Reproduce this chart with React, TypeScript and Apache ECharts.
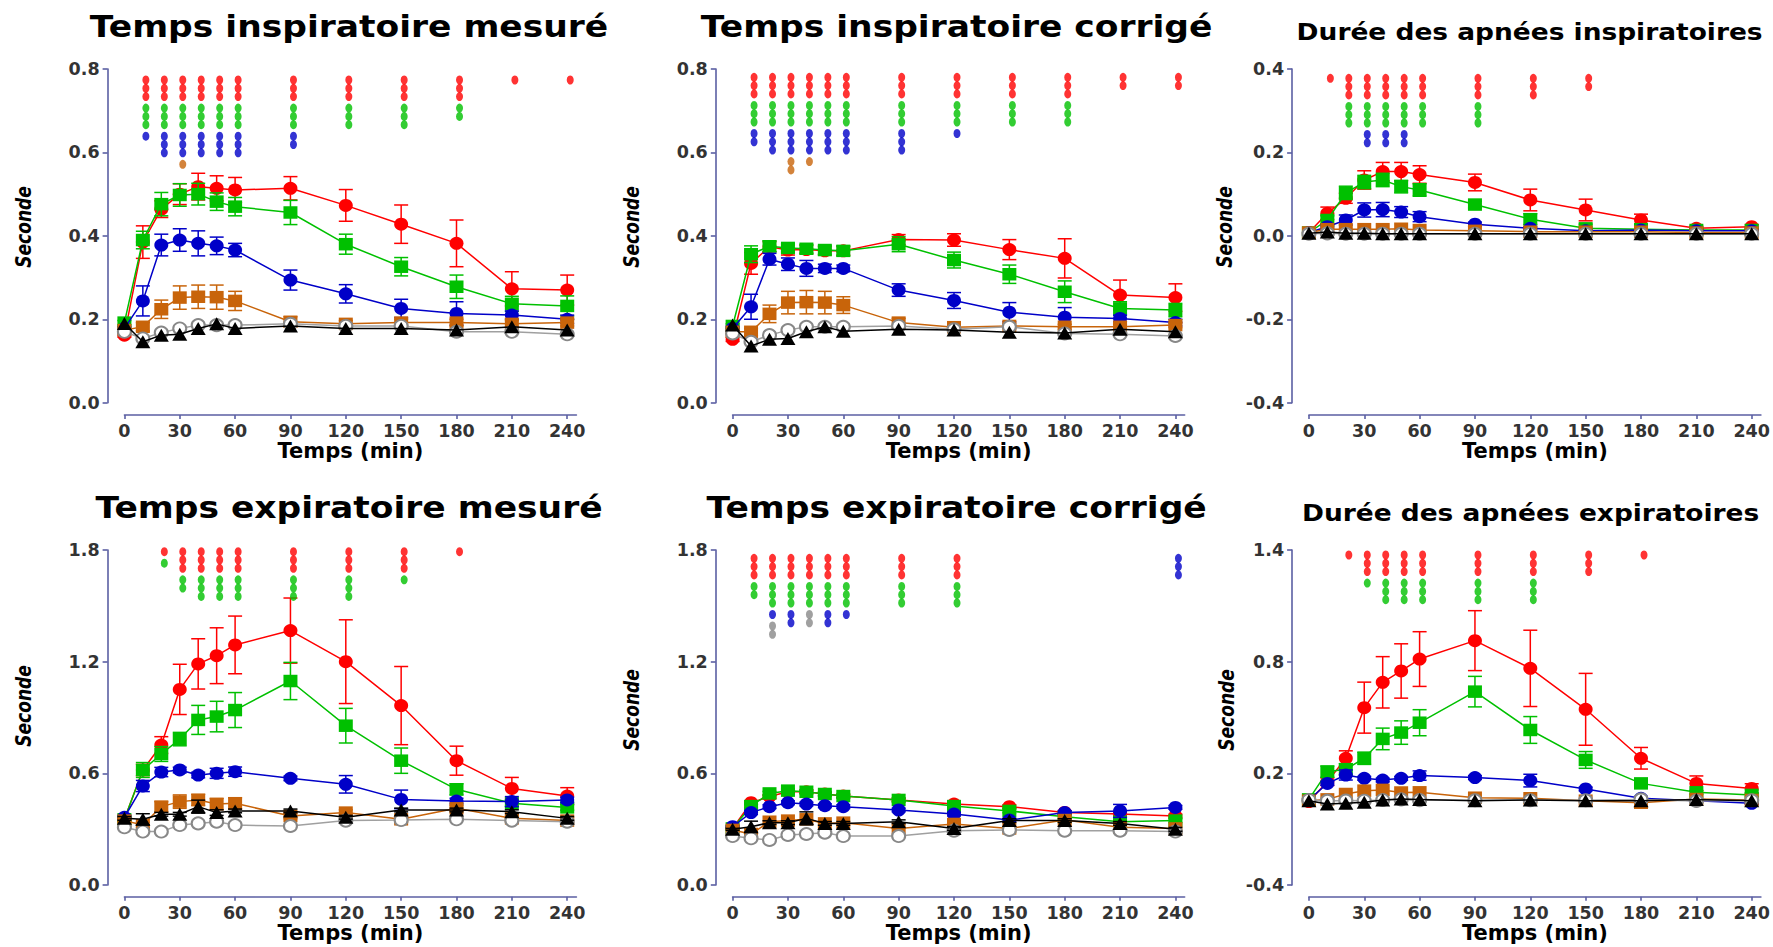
import React, { useEffect, useRef } from "react";
import * as echarts from "echarts";

// ---------- shared data ----------
const TIMES = [0, 10, 20, 30, 40, 50, 60, 90, 120, 150, 180, 210, 240];
const X_TICKS = [0, 30, 60, 90, 120, 150, 180, 210, 240];
const X_LABEL = "Temps (min)";
const Y_LABEL = "Seconde";
const TITLES = [
  "Temps inspiratoire mesuré",
  "Temps inspiratoire corrigé",
  "Durée des apnées inspiratoires",
  "Temps expiratoire mesuré",
  "Temps expiratoire corrigé",
  "Durée des apnées expiratoires",
];
const Y_TICKS_TI = [0, 0.2, 0.4, 0.6, 0.8];
const Y_TICKS_AI = [-0.4, -0.2, 0, 0.2, 0.4];
const Y_TICKS_TE = [0, 0.6, 1.2, 1.8];
const Y_TICKS_AE = [-0.4, 0.2, 0.8, 1.4];

// ---------- Panel 1 : Temps inspiratoire mesuré ----------
const P1_RED = [0.162, 0.385, 0.464, 0.5, 0.518, 0.514, 0.51, 0.514, 0.473, 0.428, 0.382, 0.273, 0.27];
const P1_RED_ERR = [0.005, 0.039, 0.02, 0.025, 0.032, 0.03, 0.03, 0.028, 0.038, 0.046, 0.056, 0.041, 0.036];
const P1_GREEN = [0.192, 0.39, 0.476, 0.498, 0.5, 0.482, 0.47, 0.456, 0.38, 0.326, 0.278, 0.237, 0.232];
const P1_GREEN_ERR = [0.005, 0.021, 0.028, 0.027, 0.026, 0.021, 0.022, 0.029, 0.024, 0.022, 0.028, 0.018, 0.024];
const P1_BLUE = [0.178, 0.244, 0.378, 0.39, 0.382, 0.376, 0.366, 0.294, 0.261, 0.226, 0.214, 0.21, 0.2];
const P1_BLUE_ERR = [0.005, 0.036, 0.026, 0.027, 0.03, 0.021, 0.016, 0.024, 0.022, 0.022, 0.028, 0.01, 0.01];
const P1_ORANGE = [0.174, 0.182, 0.224, 0.252, 0.254, 0.253, 0.244, 0.194, 0.189, 0.192, 0.192, 0.189, 0.192];
const P1_ORANGE_ERR = [0.005, 0.01, 0.022, 0.028, 0.028, 0.029, 0.023, 0.012, 0.008, 0.008, 0.008, 0.008, 0.008];
const P1_GRAY = [0.17, 0.154, 0.168, 0.178, 0.186, 0.186, 0.186, 0.189, 0.184, 0.184, 0.17, 0.17, 0.164];
const P1_BLACK = [0.19, 0.146, 0.162, 0.164, 0.178, 0.189, 0.178, 0.184, 0.178, 0.178, 0.174, 0.182, 0.174];
const P1_SIG_RED = [0, 3, 3, 3, 3, 3, 3, 3, 3, 3, 3, 1, 1];
const P1_SIG_GREEN = [0, 3, 3, 3, 3, 3, 3, 3, 3, 3, 2, 0, 0];
const P1_SIG_BLUE = [0, 1, 3, 3, 3, 3, 3, 2, 0, 0, 0, 0, 0];
const P1_SIG_ORANGE = [0, 0, 0, 1, 0, 0, 0, 0, 0, 0, 0, 0, 0];

// ---------- Panel 2 : Temps inspiratoire corrigé ----------
const P2_RED = [0.152, 0.334, 0.374, 0.366, 0.367, 0.364, 0.364, 0.391, 0.39, 0.367, 0.346, 0.258, 0.252];
const P2_RED_ERR = [0.005, 0.026, 0.012, 0.012, 0.01, 0.01, 0.01, 0.012, 0.015, 0.024, 0.047, 0.036, 0.033];
const P2_GREEN = [0.184, 0.356, 0.375, 0.371, 0.369, 0.366, 0.364, 0.38, 0.342, 0.308, 0.266, 0.226, 0.222];
const P2_GREEN_ERR = [0.005, 0.02, 0.013, 0.01, 0.01, 0.01, 0.012, 0.018, 0.019, 0.022, 0.026, 0.016, 0.016];
const P2_BLUE = [0.178, 0.23, 0.344, 0.332, 0.322, 0.322, 0.322, 0.27, 0.245, 0.217, 0.205, 0.202, 0.192];
const P2_BLUE_ERR = [0.005, 0.03, 0.014, 0.015, 0.019, 0.01, 0.008, 0.015, 0.019, 0.023, 0.023, 0.008, 0.008];
const P2_ORANGE = [0.17, 0.17, 0.213, 0.24, 0.241, 0.24, 0.234, 0.192, 0.181, 0.184, 0.182, 0.182, 0.186];
const P2_ORANGE_ERR = [0.005, 0.008, 0.021, 0.027, 0.028, 0.027, 0.02, 0.01, 0.006, 0.006, 0.006, 0.006, 0.006];
const P2_GRAY = [0.166, 0.146, 0.162, 0.174, 0.182, 0.182, 0.182, 0.184, 0.176, 0.182, 0.166, 0.164, 0.16];
const P2_BLACK = [0.186, 0.136, 0.152, 0.154, 0.17, 0.182, 0.171, 0.176, 0.174, 0.169, 0.167, 0.176, 0.17];
const P2_SIG_RED = [0, 3, 3, 3, 3, 3, 3, 3, 3, 3, 3, 2, 2];
const P2_SIG_GREEN = [0, 3, 3, 3, 3, 3, 3, 3, 3, 3, 3, 0, 0];
const P2_SIG_BLUE = [0, 2, 3, 3, 3, 3, 3, 3, 1, 0, 0, 0, 0];
const P2_SIG_ORANGE = [0, 0, 0, 2, 1, 0, 0, 0, 0, 0, 0, 0, 0];

// ---------- Panel 3 : Durée des apnées inspiratoires ----------
const P3_RED = [0.008, 0.054, 0.09, 0.134, 0.154, 0.154, 0.147, 0.128, 0.086, 0.062, 0.038, 0.018, 0.022];
const P3_RED_ERR = [0, 0.015, 0.012, 0.022, 0.022, 0.022, 0.021, 0.02, 0.026, 0.026, 0.014, 0.005, 0.005];
const P3_GREEN = [0.008, 0.038, 0.103, 0.129, 0.134, 0.118, 0.11, 0.075, 0.04, 0.018, 0.016, 0.014, 0.014];
const P3_GREEN_ERR = [0, 0.01, 0.016, 0.016, 0.016, 0.015, 0.015, 0.008, 0.013, 0.01, 0.005, 0.004, 0.004];
const P3_BLUE = [0.008, 0.022, 0.038, 0.062, 0.063, 0.057, 0.046, 0.028, 0.018, 0.012, 0.014, 0.012, 0.012];
const P3_BLUE_ERR = [0, 0.006, 0.012, 0.017, 0.017, 0.013, 0.012, 0.005, 0.004, 0.003, 0.003, 0.003, 0.003];
const P3_ORANGE = [0.008, 0.016, 0.016, 0.016, 0.016, 0.017, 0.014, 0.012, 0.01, 0.01, 0.01, 0.008, 0.008];
const P3_GRAY = [0.005, 0.006, 0.005, 0.005, 0.005, 0.005, 0.005, 0.005, 0.005, 0.005, 0.005, 0.005, 0.005];
const P3_BLACK = [0.006, 0.009, 0.006, 0.006, 0.005, 0.005, 0.005, 0.005, 0.005, 0.005, 0.005, 0.005, 0.005];
const P3_SIG_RED = [0, 1, 3, 3, 3, 3, 3, 3, 3, 2, 0, 0, 0];
const P3_SIG_GREEN = [0, 0, 3, 3, 3, 3, 3, 3, 0, 0, 0, 0, 0];
const P3_SIG_BLUE = [0, 0, 0, 2, 2, 2, 0, 0, 0, 0, 0, 0, 0];

// ---------- Panel 4 : Temps expiratoire mesuré ----------
const P4_RED = [0.353, 0.618, 0.752, 1.051, 1.188, 1.232, 1.29, 1.367, 1.2, 0.964, 0.668, 0.519, 0.478];
const P4_RED_ERR = [0.01, 0.03, 0.045, 0.135, 0.135, 0.15, 0.155, 0.175, 0.225, 0.21, 0.078, 0.059, 0.045];
const P4_GREEN = [0.353, 0.618, 0.704, 0.784, 0.887, 0.905, 0.94, 1.096, 0.856, 0.668, 0.514, 0.439, 0.417];
const P4_GREEN_ERR = [0.01, 0.04, 0.04, 0.036, 0.078, 0.082, 0.094, 0.1, 0.093, 0.068, 0.03, 0.015, 0.015];
const P4_BLUE = [0.364, 0.532, 0.607, 0.618, 0.591, 0.6, 0.609, 0.573, 0.541, 0.46, 0.451, 0.448, 0.457];
const P4_BLUE_ERR = [0.01, 0.03, 0.025, 0.015, 0.015, 0.027, 0.025, 0.012, 0.047, 0.05, 0.015, 0.027, 0.015];
const P4_ORANGE = [0.346, 0.322, 0.421, 0.448, 0.457, 0.435, 0.439, 0.371, 0.389, 0.353, 0.412, 0.358, 0.346];
const P4_ORANGE_ERR = [0.01, 0.015, 0.027, 0.036, 0.03, 0.03, 0.03, 0.015, 0.015, 0.015, 0.015, 0.015, 0.015];
const P4_GRAY = [0.31, 0.287, 0.287, 0.322, 0.331, 0.34, 0.322, 0.317, 0.346, 0.349, 0.353, 0.346, 0.34];
const P4_BLACK = [0.358, 0.353, 0.38, 0.38, 0.421, 0.389, 0.398, 0.398, 0.364, 0.403, 0.403, 0.394, 0.358];
const P4_BLACK_ERR = [0.01, 0.03, 0.01, 0.01, 0.035, 0.015, 0.01, 0.01, 0.01, 0.01, 0.01, 0.01, 0.01];
const P4_SIG_RED = [0, 0, 1, 3, 3, 3, 3, 3, 3, 3, 1, 0, 0];
const P4_SIG_GREEN = [0, 0, 1, 2, 3, 3, 3, 3, 3, 1, 0, 0, 0];

// ---------- Panel 5 : Temps expiratoire corrigé ----------
const P5_RED = [0.304, 0.442, 0.475, 0.501, 0.501, 0.489, 0.478, 0.457, 0.435, 0.421, 0.39, 0.381, 0.371];
const P5_RED_ERR = [0.005, 0.01, 0.01, 0.01, 0.01, 0.01, 0.01, 0.01, 0.01, 0.01, 0.01, 0.01, 0.01];
const P5_GREEN = [0.304, 0.424, 0.492, 0.507, 0.501, 0.489, 0.478, 0.457, 0.424, 0.398, 0.367, 0.34, 0.346];
const P5_GREEN_ERR = [0.005, 0.01, 0.01, 0.01, 0.01, 0.01, 0.01, 0.01, 0.01, 0.01, 0.01, 0.01, 0.01];
const P5_BLUE = [0.313, 0.389, 0.421, 0.442, 0.435, 0.426, 0.421, 0.403, 0.381, 0.349, 0.389, 0.398, 0.417];
const P5_BLUE_ERR = [0.005, 0.01, 0.01, 0.01, 0.01, 0.01, 0.01, 0.01, 0.01, 0.01, 0.01, 0.035, 0.01];
const P5_ORANGE = [0.296, 0.274, 0.34, 0.346, 0.353, 0.331, 0.335, 0.304, 0.328, 0.304, 0.349, 0.31, 0.304];
const P5_GRAY = [0.263, 0.251, 0.242, 0.269, 0.274, 0.281, 0.263, 0.263, 0.292, 0.296, 0.292, 0.292, 0.287];
const P5_BLACK = [0.299, 0.313, 0.335, 0.335, 0.358, 0.331, 0.331, 0.34, 0.304, 0.346, 0.346, 0.331, 0.299];
const P5_BLACK_ERR = [0.005, 0.03, 0.01, 0.01, 0.035, 0.01, 0.01, 0.01, 0.01, 0.01, 0.01, 0.01, 0.01];
const P5_SIG_RED = [0, 3, 3, 3, 3, 3, 3, 3, 3, 0, 0, 0, 0];
const P5_SIG_GREEN = [0, 2, 3, 3, 3, 3, 3, 3, 3, 0, 0, 0, 0];
const P5_SIG_BLUE = [0, 0, 1, 2, 0, 2, 1, 0, 0, 0, 0, 0, 3];
const P5_SIG_GRAY = [0, 0, 2, 0, 2, 0, 0, 0, 0, 0, 0, 0, 0];

// ---------- Panel 6 : Durée des apnées expiratoires ----------
const P6_RED = [0.048, 0.155, 0.281, 0.553, 0.689, 0.75, 0.814, 0.913, 0.764, 0.544, 0.281, 0.146, 0.119];
const P6_RED_ERR = [0.005, 0.02, 0.04, 0.137, 0.138, 0.146, 0.147, 0.161, 0.205, 0.193, 0.058, 0.04, 0.025];
const P6_GREEN = [0.06, 0.209, 0.222, 0.281, 0.385, 0.419, 0.472, 0.639, 0.433, 0.272, 0.146, 0.098, 0.084];
const P6_GREEN_ERR = [0.005, 0.03, 0.03, 0.033, 0.058, 0.063, 0.07, 0.082, 0.072, 0.045, 0.01, 0.01, 0.01];
const P6_BLUE = [0.057, 0.146, 0.191, 0.173, 0.164, 0.173, 0.188, 0.177, 0.161, 0.116, 0.066, 0.053, 0.039];
const P6_BLUE_ERR = [0.005, 0.01, 0.027, 0.01, 0.01, 0.01, 0.025, 0.01, 0.034, 0.01, 0.01, 0.005, 0.005];
const P6_ORANGE = [0.053, 0.06, 0.089, 0.107, 0.111, 0.097, 0.098, 0.069, 0.066, 0.053, 0.042, 0.062, 0.057];
const P6_GRAY = [0.057, 0.052, 0.054, 0.053, 0.057, 0.06, 0.056, 0.055, 0.055, 0.055, 0.06, 0.052, 0.055];
const P6_BLACK = [0.053, 0.035, 0.039, 0.044, 0.057, 0.062, 0.06, 0.053, 0.057, 0.053, 0.053, 0.06, 0.053];
const P6_SIG_RED = [0, 0, 1, 3, 3, 3, 3, 3, 3, 3, 1, 0, 0];
const P6_SIG_GREEN = [0, 0, 0, 1, 3, 3, 3, 3, 3, 0, 0, 0, 0];

// ---------- styles ----------
const AXIS_COLOR = "#5b5fa3";
const LABEL_COLOR = "#333333";
const FONT = '"DejaVu Sans", Verdana, sans-serif';
const X_MAX = 245;
const PX_PER_MIN = 1.845;
const GRID_LEFT = [124.4, 732.6, 1308.9];
const GRID_TOP = [69, 550];
const GRID_H = [333.7, 335];
const X_OFFSET = [12.3, 11.7];
const Y_OFFSET = 16.8;
const DOT_STEP = 8.3;
const DOT_GAP = 11.5;

type GroupKey = "red" | "green" | "blue" | "orange" | "gray" | "black";
const GROUPS: { key: GroupKey; color: string; line: string; symbol: string; size: number[]; hollow?: boolean }[] = [
  { key: "red", color: "#ff0000", line: "#ff0000", symbol: "circle", size: [14, 13] },
  { key: "green", color: "#00c000", line: "#00c000", symbol: "rect", size: [14, 12.5] },
  { key: "blue", color: "#0000c8", line: "#0000c8", symbol: "circle", size: [14, 13] },
  { key: "orange", color: "#c8640a", line: "#c8640a", symbol: "rect", size: [14, 12.5] },
  { key: "gray", color: "#888888", line: "#a0a0a0", symbol: "emptyCircle", size: [13, 12], hollow: true },
  { key: "black", color: "#000000", line: "#000000", symbol: "triangle", size: [15, 13] },
];

type Panel = {
  yMin: number;
  yMax: number;
  yTicks: number[];
  values: Record<GroupKey, number[]>;
  errs: Partial<Record<GroupKey, number[]>>;
  sig: Partial<Record<GroupKey, number[]>>;
  titleSize: number;
  titlePos: number[];
  ylabelPos: number[];
  dotTop: number;
};

const PANELS: Panel[] = [
  {
    yMin: 0, yMax: 0.8, yTicks: Y_TICKS_TI,
    values: { red: P1_RED, green: P1_GREEN, blue: P1_BLUE, orange: P1_ORANGE, gray: P1_GRAY, black: P1_BLACK },
    errs: { red: P1_RED_ERR, green: P1_GREEN_ERR, blue: P1_BLUE_ERR, orange: P1_ORANGE_ERR },
    sig: { red: P1_SIG_RED, green: P1_SIG_GREEN, blue: P1_SIG_BLUE, orange: P1_SIG_ORANGE },
    titleSize: 30, titlePos: [349, 27], ylabelPos: [23.5, 227], dotTop: 11,
  },
  {
    yMin: 0, yMax: 0.8, yTicks: Y_TICKS_TI,
    values: { red: P2_RED, green: P2_GREEN, blue: P2_BLUE, orange: P2_ORANGE, gray: P2_GRAY, black: P2_BLACK },
    errs: { red: P2_RED_ERR, green: P2_GREEN_ERR, blue: P2_BLUE_ERR, orange: P2_ORANGE_ERR },
    sig: { red: P2_SIG_RED, green: P2_SIG_GREEN, blue: P2_SIG_BLUE, orange: P2_SIG_ORANGE },
    titleSize: 30, titlePos: [956.6, 27], ylabelPos: [631, 227], dotTop: 8.3,
  },
  {
    yMin: -0.4, yMax: 0.4, yTicks: Y_TICKS_AI,
    values: { red: P3_RED, green: P3_GREEN, blue: P3_BLUE, orange: P3_ORANGE, gray: P3_GRAY, black: P3_BLACK },
    errs: { red: P3_RED_ERR, green: P3_GREEN_ERR, blue: P3_BLUE_ERR },
    sig: { red: P3_SIG_RED, green: P3_SIG_GREEN, blue: P3_SIG_BLUE },
    titleSize: 23, titlePos: [1529.6, 31.7], ylabelPos: [1224, 227], dotTop: 9.3,
  },
  {
    yMin: 0, yMax: 1.8, yTicks: Y_TICKS_TE,
    values: { red: P4_RED, green: P4_GREEN, blue: P4_BLUE, orange: P4_ORANGE, gray: P4_GRAY, black: P4_BLACK },
    errs: { red: P4_RED_ERR, green: P4_GREEN_ERR, blue: P4_BLUE_ERR, orange: P4_ORANGE_ERR, black: P4_BLACK_ERR },
    sig: { red: P4_SIG_RED, green: P4_SIG_GREEN },
    titleSize: 30, titlePos: [349, 508], ylabelPos: [23.5, 706], dotTop: 1.7,
  },
  {
    yMin: 0, yMax: 1.8, yTicks: Y_TICKS_TE,
    values: { red: P5_RED, green: P5_GREEN, blue: P5_BLUE, orange: P5_ORANGE, gray: P5_GRAY, black: P5_BLACK },
    errs: { red: P5_RED_ERR, green: P5_GREEN_ERR, blue: P5_BLUE_ERR, black: P5_BLACK_ERR },
    sig: { red: P5_SIG_RED, green: P5_SIG_GREEN, blue: P5_SIG_BLUE, gray: P5_SIG_GRAY },
    titleSize: 30, titlePos: [956.6, 508], ylabelPos: [631, 710], dotTop: 8.3,
  },
  {
    yMin: -0.4, yMax: 1.4, yTicks: Y_TICKS_AE,
    values: { red: P6_RED, green: P6_GREEN, blue: P6_BLUE, orange: P6_ORANGE, gray: P6_GRAY, black: P6_BLACK },
    errs: { red: P6_RED_ERR, green: P6_GREEN_ERR, blue: P6_BLUE_ERR },
    sig: { red: P6_SIG_RED, green: P6_SIG_GREEN },
    titleSize: 23, titlePos: [1530.6, 513], ylabelPos: [1226, 710], dotTop: 5,
  },
];

function errorBarRenderer(color: string) {
  return (params: any, api: any) => {
    const x = api.value(0);
    const y = api.value(1);
    const e = api.value(2);
    if (!e) return null;
    const top = api.coord([x, y + e]);
    const bot = api.coord([x, y - e]);
    const hw = 7;
    const style = { stroke: color, lineWidth: 1.5 };
    return {
      type: "group",
      children: [
        { type: "line", shape: { x1: top[0], y1: top[1], x2: bot[0], y2: bot[1] }, style },
        { type: "line", shape: { x1: top[0] - hw, y1: top[1], x2: top[0] + hw, y2: top[1] }, style },
        { type: "line", shape: { x1: bot[0] - hw, y1: bot[1], x2: bot[0] + hw, y2: bot[1] }, style },
      ],
    };
  };
}

function buildOption() {
  const grid: any[] = [];
  const xAxis: any[] = [];
  const yAxis: any[] = [];
  const series: any[] = [];
  const graphic: any[] = [];
  const tickLabel = { fontFamily: FONT, fontWeight: "bold", fontSize: 17.5, color: LABEL_COLOR };

  PANELS.forEach((p, i) => {
    const col = i % 3;
    const row = Math.floor(i / 3);
    grid.push({ left: GRID_LEFT[col], top: GRID_TOP[row], width: X_MAX * PX_PER_MIN, height: GRID_H[row] });
    xAxis.push({
      type: "value", gridIndex: i, min: 0, max: X_MAX, offset: X_OFFSET[row],
      axisLine: { show: true, onZero: false, lineStyle: { color: AXIS_COLOR, width: 1.6 } },
      axisTick: { show: true, customValues: X_TICKS, length: 4, lineStyle: { color: AXIS_COLOR, width: 1.6 } },
      axisLabel: { ...tickLabel, customValues: X_TICKS, margin: 7 },
      splitLine: { show: false },
      name: X_LABEL, nameLocation: "middle", nameGap: 25,
      nameTextStyle: { fontFamily: FONT, fontWeight: "bold", fontSize: 21, color: "#000" },
    });
    yAxis.push({
      type: "value", gridIndex: i, min: p.yMin, max: p.yMax, offset: Y_OFFSET,
      axisLine: { show: true, onZero: false, lineStyle: { color: AXIS_COLOR, width: 1.6 } },
      axisTick: { show: true, customValues: p.yTicks, length: 5, lineStyle: { color: AXIS_COLOR, width: 1.6 } },
      axisLabel: { ...tickLabel, customValues: p.yTicks, margin: 8, formatter: (v: number) => v.toFixed(1) },
      splitLine: { show: false },
    });

    GROUPS.forEach((g, gi) => {
      const vals = p.values[g.key];
      const errs = p.errs[g.key];
      if (errs) {
        series.push({
          type: "custom", xAxisIndex: i, yAxisIndex: i, z: 2 + gi * 2, silent: true,
          encode: { x: 0, y: 1 },
          data: TIMES.map((t, j) => [t, vals[j], errs[j]]),
          renderItem: errorBarRenderer(g.line),
        });
      }
      series.push({
        type: "line", xAxisIndex: i, yAxisIndex: i, z: 3 + gi * 2, silent: true,
        data: TIMES.map((t, j) => [t, vals[j]]),
        symbol: g.symbol, symbolSize: g.size, showAllSymbol: true,
        lineStyle: { color: g.line, width: 1.5 },
        itemStyle: g.hollow ? { color: g.color, borderColor: g.color, borderWidth: 1.5 } : { color: g.color },
      });
    });

    // significance dots, stacked from the top of the plot in colour order
    const dotsByColor: Record<string, any[]> = {};
    TIMES.forEach((t, j) => {
      let off = p.dotTop;
      GROUPS.forEach((g) => {
        const counts = p.sig[g.key];
        const n = counts ? counts[j] : 0;
        if (!n) return;
        for (let k = 0; k < n; k++) {
          (dotsByColor[g.key] = dotsByColor[g.key] || []).push({
            value: [t, p.yMax],
            symbolOffset: [3, off + k * DOT_STEP],
          });
        }
        off += (n - 1) * DOT_STEP + DOT_GAP;
      });
    });
    GROUPS.forEach((g) => {
      const d = dotsByColor[g.key];
      if (!d) return;
      series.push({
        type: "scatter", xAxisIndex: i, yAxisIndex: i, z: 20, silent: true, clip: false,
        symbol: "circle", symbolSize: [7, 9],
        itemStyle: { color: g.color },
        data: d,
      });
    });

    graphic.push({
      type: "text", x: p.titlePos[0], y: p.titlePos[1], scaleX: 1.15, silent: true,
      style: {
        text: TITLES[i], fill: "#000", font: `bold ${p.titleSize}px ${FONT}`,
        align: "center", verticalAlign: "middle", textAlign: "center", textVerticalAlign: "middle",
      },
    });
    graphic.push({
      type: "text", x: p.ylabelPos[0], y: p.ylabelPos[1], rotation: Math.PI / 2, scaleX: 0.95, scaleY: 1.15, silent: true,
      style: {
        text: Y_LABEL, fill: "#000", font: `italic bold 18px ${FONT}`,
        align: "center", verticalAlign: "middle", textAlign: "center", textVerticalAlign: "middle",
      },
    });
  });

  return { animation: false, backgroundColor: "#ffffff", grid, xAxis, yAxis, series, graphic };
}

export default function App() {
  const ref = useRef<HTMLDivElement>(null);
  useEffect(() => {
    if (!ref.current) return;
    const chart = echarts.init(ref.current, undefined, { renderer: "svg" });
    chart.setOption(buildOption() as any);
    return () => chart.dispose();
  }, []);
  return (
    <div
      ref={ref}
      style={{ position: "fixed", left: 0, top: 0, width: 1773, height: 947, background: "#fff" }}
    />
  );
}
